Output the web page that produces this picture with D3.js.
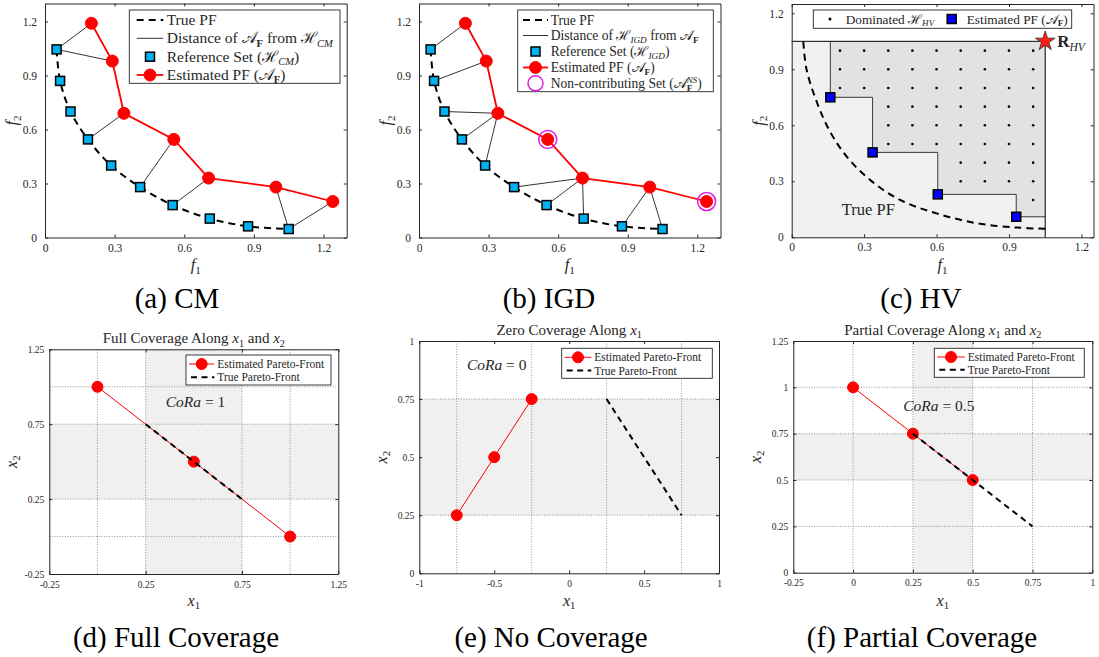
<!DOCTYPE html>
<html>
<head>
<meta charset="utf-8">
<script src="https://cdn.jsdelivr.net/npm/d3@7"></script>
<style>
body { margin: 0; background: #fff; }
svg { display: block; }
text { font-family: "Liberation Serif", "DejaVu Serif", serif; }
</style>
</head>
<body>
<svg id="fig" width="1099" height="657"></svg>
<script>
// ---- data: (a) CM and (b) IGD ----
var refF1 = [0.05, 0.065, 0.11, 0.185, 0.285, 0.41, 0.55, 0.71, 0.875, 1.05]
var refF2 = [1.045, 0.87, 0.70, 0.545, 0.40, 0.28, 0.18, 0.105, 0.062, 0.047]
var estF1 = [0.20, 0.29, 0.34, 0.555, 0.705, 0.995, 1.24]
var estF2 = [1.19, 0.98, 0.69, 0.545, 0.33, 0.28, 0.20]
var cmLinks = [[0, 0], [1, 0], [2, 3], [3, 5], [4, 6], [5, 9], [6, 9]]           // [estimated, reference]
var igdLinks = [[0, 0], [1, 1], [2, 2], [2, 3], [2, 4], [4, 5], [4, 6], [4, 7], [5, 8], [5, 9]]
var nonContributing = [3, 6]
var topTicks = [0, 0.3, 0.6, 0.9, 1.2]

// ---- data: (c) HV ----
var hvTrueF1 = [0.048, 0.062, 0.106, 0.159, 0.228, 0.325, 0.449, 0.60, 0.768, 0.934, 1.05]
var hvTrueF2 = [1.048, 0.896, 0.718, 0.566, 0.432, 0.307, 0.20, 0.128, 0.075, 0.052, 0.046]
var hvEstF1 = [0.16, 0.335, 0.605, 0.93]
var hvEstF2 = [0.75, 0.455, 0.23, 0.11]
var hvRef = [1.05, 1.05]
var hvGridF1 = [0.2, 0.3, 0.4, 0.5, 0.6, 0.7, 0.8, 0.9, 1.0]
var hvGridF2 = [0.2, 0.3, 0.4, 0.5, 0.6, 0.7, 0.8, 0.9, 1.0]

// ---- data: (d) full, (e) zero, (f) partial coverage ----
var fullEstX = [0, 0.5, 1], fullEstY = [1, 0.5, 0]
var fullTrueX = [0.25, 0.75], fullTrueY = [0.75, 0.25]
var fullXTicks = [-0.25, 0.25, 0.75, 1.25], fullYTicks = [-0.25, 0.25, 0.75, 1.25]
var fullXGrid = [0, 0.25, 0.75, 1], fullYGrid = [0, 0.25, 0.75, 1]

var zeroEstX = [-0.75, -0.5, -0.25], zeroEstY = [0.25, 0.5, 0.75]
var zeroTrueX = [0.25, 0.75], zeroTrueY = [0.75, 0.25]
var zeroXTicks = [-1, -0.5, 0, 0.5, 1], zeroYTicks = [0, 0.25, 0.5, 0.75, 1]
var zeroXGrid = [-0.75, -0.25, 0.25, 0.75], zeroYGrid = [0.25, 0.75]

var partEstX = [0, 0.25, 0.5], partEstY = [1, 0.75, 0.5]
var partTrueX = [0.25, 0.75], partTrueY = [0.75, 0.25]
var partXTicks = [-0.25, 0, 0.25, 0.5, 0.75, 1], partYTicks = [0, 0.25, 0.5, 0.75, 1, 1.25]
var partXGrid = [0, 0.25, 0.5, 0.75], partYGrid = [0.25, 0.5, 0.75, 1]

var captions = ["(a) CM", "(b) IGD", "(c) HV", "(d) Full Coverage", "(e) No Coverage", "(f) Partial Coverage"]

var FONT = "Liberation Serif, DejaVu Serif, serif"
var CAL_A = "\u{1D49C}", CAL_H = "\u210B"
var INK = "#262626"
var svg = d3.select("#fig").attr("font-family", FONT)

//build scales for one axes box
function makePanel(box, xDom, yDom) {
	var g = svg.append("g")
	return {
		g: g, box: box,
		x: d3.scaleLinear().domain(xDom).range([box.l, box.r]),
		y: d3.scaleLinear().domain(yDom).range([box.b, box.t])
	}
}

//matlab style box with inward ticks on all four sides
function drawAxes(p, xt, yt, fs, padX, padY) {
	var fmt = function(d) { return String(+d.toFixed(2)) }
	var ga = p.g.append("g").attr("color", INK)
	ga.append("g").attr("transform", "translate(0," + p.box.b + ")")
		.call(d3.axisBottom(p.x).tickValues(xt).tickFormat(fmt).tickSizeInner(-3).tickSizeOuter(0).tickPadding(padX))
		.attr("font-family", FONT).attr("font-size", fs)
	ga.append("g").attr("transform", "translate(0," + p.box.t + ")")
		.call(d3.axisTop(p.x).tickValues(xt).tickFormat("").tickSizeInner(-3).tickSizeOuter(0))
	ga.append("g").attr("transform", "translate(" + p.box.l + ",0)")
		.call(d3.axisLeft(p.y).tickValues(yt).tickFormat(fmt).tickSizeInner(-3).tickSizeOuter(0).tickPadding(padY))
		.attr("font-family", FONT).attr("font-size", fs)
	ga.append("g").attr("transform", "translate(" + p.box.r + ",0)")
		.call(d3.axisRight(p.y).tickValues(yt).tickFormat("").tickSizeInner(-3).tickSizeOuter(0))
	ga.selectAll("text").attr("font-family", FONT)
}

//text made of parts: [text, mode, dx]; mode i=italic b=bold _=subscript ^=superscript
function rich(sel, parts, fs) {
	var shift = 0
	parts.forEach(function(p) {
		var m = p[1] || ""
		var ts = sel.append("tspan").text(p[0])
		var target = 0
		if (m[0] == "_") target = fs * 0.22
		if (m[0] == "^") target = -fs * 0.36
		if (target != shift) { ts.attr("dy", target - shift); shift = target }
		if (m[0] == "_" || m[0] == "^") ts.attr("font-size", fs * 0.68)
		if (m.indexOf("i") >= 0) ts.attr("font-style", "italic")
		if (m.indexOf("b") >= 0) ts.attr("font-weight", "bold")
		if (p[2]) ts.attr("dx", p[2])
	})
}

function label(x, y, parts, fs, anchor, rotate) {
	var t = svg.append("text").attr("font-size", fs).attr("fill", INK)
		.attr("font-family", FONT)
		.attr("text-anchor", anchor || "start")
	if (rotate) t.attr("transform", "translate(" + x + "," + y + ") rotate(-90)")
	else t.attr("x", x).attr("y", y)
	rich(t, parts, fs)
	return t
}

function redDot(g, x, y, r) {
	g.append("circle").attr("cx", x).attr("cy", y).attr("r", r).attr("fill", "#ff0000").attr("stroke", "#ff0000")
}
function square(g, x, y, s, fill) {
	g.append("rect").attr("x", x - s / 2).attr("y", y - s / 2).attr("width", s).attr("height", s)
		.attr("fill", fill).attr("stroke", "#000").attr("stroke-width", 1.5)
}
function seg(g, x1, y1, x2, y2) {
	return g.append("line").attr("x1", x1).attr("y1", y1).attr("x2", x2).attr("y2", y2)
}
function legendBox(g, l, t, r, b) {
	g.append("rect").attr("x", l).attr("y", t).attr("width", r - l).attr("height", b - t)
		.attr("fill", "#fff").attr("stroke", INK).attr("stroke-width", 0.9)
}

var ref = d3.range(refF1.length).map(function(i) { return [refF1[i], refF2[i]] })
var est = d3.range(estF1.length).map(function(i) { return [estF1[i], estF2[i]] })

//panels (a) and (b) share everything but the links
function frontPanel(box, links, igd) {
	var p = makePanel(box, [0, 1.3], [0, 1.3])
	var line = d3.line().x(function(d) { return p.x(d[0]) }).y(function(d) { return p.y(d[1]) })
	p.g.append("path").attr("d", line.curve(d3.curveCatmullRom)(ref))
		.attr("fill", "none").attr("stroke", "#000").attr("stroke-width", 2).attr("stroke-dasharray", "7,5")
	links.forEach(function(k) {
		seg(p.g, p.x(est[k[0]][0]), p.y(est[k[0]][1]), p.x(ref[k[1]][0]), p.y(ref[k[1]][1]))
			.attr("stroke", "#000").attr("stroke-width", 0.8)
	})
	p.g.append("path").attr("d", line.curve(d3.curveLinear)(est))
		.attr("fill", "none").attr("stroke", "#ff0000").attr("stroke-width", 1.8)
	ref.forEach(function(d) { square(p.g, p.x(d[0]), p.y(d[1]), 9, "#00b0f0") })
	est.forEach(function(d) { redDot(p.g, p.x(d[0]), p.y(d[1]), 6) })
	if (igd) nonContributing.forEach(function(i) {
		p.g.append("circle").attr("cx", p.x(est[i][0])).attr("cy", p.y(est[i][1])).attr("r", 9)
			.attr("fill", "none").attr("stroke", "#e020e0").attr("stroke-width", 1.5)
	})
	drawAxes(p, topTicks, topTicks, 11.5, 6, 8)
	return p
}

// (a)
var pa = frontPanel({l: 45, r: 346.7, t: 3.5, b: 237.5}, cmLinks, false)
legendBox(pa.g, 129.3, 10, 340, 83.3)
seg(pa.g, 136.7, 20, 163.3, 20).attr("stroke", "#000").attr("stroke-width", 2).attr("stroke-dasharray", "7,5")
seg(pa.g, 136.7, 38.3, 163.3, 38.3).attr("stroke", "#000").attr("stroke-width", 0.8)
square(pa.g, 150, 56.7, 9, "#00b0f0")
seg(pa.g, 136.7, 75, 163.3, 75).attr("stroke", "#ff0000").attr("stroke-width", 1.8)
redDot(pa.g, 150, 75, 6)
label(166.7, 25, [["True PF"]], 15.5)
label(166.7, 43.3, [["Distance of "], [CAL_A], ["F", "_b"], [" from "], [CAL_H], ["CM", "_i"]], 15.5)
label(166.7, 61.7, [["Reference Set ("], [CAL_H], ["CM", "_i"], [")"]], 15.5)
label(166.7, 80, [["Estimated PF ("], [CAL_A], ["F", "_b"], [")"]], 15.5)

// (b)
var pb = frontPanel({l: 419, r: 720.5, t: 3.5, b: 237.5}, igdLinks, true)
legendBox(pb.g, 517.7, 10, 713.3, 91.7)
seg(pb.g, 523, 20, 548, 20).attr("stroke", "#000").attr("stroke-width", 2).attr("stroke-dasharray", "7,5")
seg(pb.g, 523, 35.5, 548, 35.5).attr("stroke", "#000").attr("stroke-width", 0.8)
square(pb.g, 535.5, 51.5, 9, "#00b0f0")
seg(pb.g, 523, 67.5, 548, 67.5).attr("stroke", "#ff0000").attr("stroke-width", 1.8)
redDot(pb.g, 535.5, 67.5, 6)
pb.g.append("circle").attr("cx", 535.5).attr("cy", 83.3).attr("r", 7.5)
	.attr("fill", "none").attr("stroke", "#e020e0").attr("stroke-width", 1.5)
label(550.7, 24.5, [["True PF"]], 13.6)
label(550.7, 40, [["Distance of "], [CAL_H], ["IGD", "_i"], [" from "], [CAL_A], ["F", "_b"]], 13.6)
label(550.7, 56, [["Reference Set ("], [CAL_H], ["IGD", "_i"], [")"]], 13.6)
label(550.7, 72, [["Estimated PF ("], [CAL_A], ["F", "_b"], [")"]], 13.6)
label(550.7, 87.8, [["Non-contributing Set ("], [CAL_A], ["F", "_b"], ["NS", "^i", -6], [")"]], 13.6)

// (c)
var pc = makePanel({l: 791.7, r: 1093.5, t: 4, b: 237.3}, [0, 1.25], [0, 1.25])
var hvEst = d3.range(hvEstF1.length).map(function(i) { return [hvEstF1[i], hvEstF2[i]] })
pc.g.append("rect").attr("x", pc.x(0)).attr("y", pc.y(hvRef[1]))
	.attr("width", pc.x(hvRef[0]) - pc.x(0)).attr("height", pc.y(0) - pc.y(hvRef[1])).attr("fill", "#f1f1f1")
//staircase of the dominated region
var stair = [[hvEst[0][0], hvRef[1]]]
hvEst.forEach(function(d, i) {
	stair.push(d)
	var nx = i + 1 < hvEst.length ? hvEst[i + 1][0] : hvRef[0]
	stair.push([nx, d[1]])
})
var hvLine = d3.line().x(function(d) { return pc.x(d[0]) }).y(function(d) { return pc.y(d[1]) })
pc.g.append("path").attr("d", hvLine(stair.concat([hvRef])) + "Z").attr("fill", "#e2e2e2")
pc.g.append("path").attr("d", hvLine(stair)).attr("fill", "none").attr("stroke", "#3a3a3a").attr("stroke-width", 1)
hvGridF2.forEach(function(gy) {
	hvGridF1.forEach(function(gx) {
		var dom = hvEst.some(function(d) { return d[0] <= gx && d[1] <= gy })
		if (dom) pc.g.append("circle").attr("cx", pc.x(gx)).attr("cy", pc.y(gy)).attr("r", 1.3).attr("fill", "#000")
	})
})
seg(pc.g, pc.x(0), pc.y(hvRef[1]), pc.x(hvRef[0]), pc.y(hvRef[1])).attr("stroke", "#000").attr("stroke-width", 1)
seg(pc.g, pc.x(hvRef[0]), pc.y(0), pc.x(hvRef[0]), pc.y(hvRef[1])).attr("stroke", "#000").attr("stroke-width", 1)
var hvTrue = d3.range(hvTrueF1.length).map(function(i) { return [hvTrueF1[i], hvTrueF2[i]] })
pc.g.append("path").attr("d", hvLine.curve(d3.curveCatmullRom)(hvTrue))
	.attr("fill", "none").attr("stroke", "#000").attr("stroke-width", 2).attr("stroke-dasharray", "7,5")
hvEst.forEach(function(d) { square(pc.g, pc.x(d[0]), pc.y(d[1]), 9, "#0000ff") })
pc.g.append("path").attr("d", d3.symbol(d3.symbolStar, 120)())
	.attr("transform", "translate(" + pc.x(hvRef[0]) + "," + pc.y(hvRef[1]) + ")")
	.attr("fill", "#ff1a1a").attr("stroke", "#333").attr("stroke-width", 0.8)
drawAxes(pc, topTicks, topTicks, 11.5, 6, 8)
label(pc.x(hvRef[0]) + 12, pc.y(hvRef[1]) + 6, [["R", "b"], ["HV", "_i"]], 17)
label(868.3, 215, [["True PF"]], 16.5, "middle")
legendBox(pc.g, 813.3, 10, 1071.7, 28.3)
pc.g.append("circle").attr("cx", 830).attr("cy", 19).attr("r", 1.5).attr("fill", "#000")
square(pc.g, 951.7, 19, 9, "#0000ff")
label(845.7, 23.5, [["Dominated "], [CAL_H], ["HV", "_i"]], 13.3)
label(966.7, 23.5, [["Estimated PF ("], [CAL_A], ["F", "_b"], [")"]], 13.3)

// coverage panels
function coveragePanel(o) {
	var p = makePanel(o.box, o.xDom, o.yDom)
	if (o.xBand) p.g.append("rect").attr("x", p.x(o.xBand[0])).attr("y", o.box.t)
		.attr("width", p.x(o.xBand[1]) - p.x(o.xBand[0])).attr("height", o.box.b - o.box.t).attr("fill", "#f0f0f0")
	if (o.yBand) p.g.append("rect").attr("x", o.box.l).attr("y", p.y(o.yBand[1]))
		.attr("width", o.box.r - o.box.l).attr("height", p.y(o.yBand[0]) - p.y(o.yBand[1])).attr("fill", "#f0f0f0")
	o.xGrid.forEach(function(v) {
		seg(p.g, p.x(v), o.box.t, p.x(v), o.box.b).attr("stroke", "#6a6a6a").attr("stroke-width", 0.7).attr("stroke-dasharray", "1,1.6")
	})
	o.yGrid.forEach(function(v) {
		seg(p.g, o.box.l, p.y(v), o.box.r, p.y(v)).attr("stroke", "#6a6a6a").attr("stroke-width", 0.7).attr("stroke-dasharray", "1,1.6")
	})
	var line = d3.line().x(function(d) { return p.x(d[0]) }).y(function(d) { return p.y(d[1]) })
	var e = o.estX.map(function(v, i) { return [v, o.estY[i]] })
	var t = o.trueX.map(function(v, i) { return [v, o.trueY[i]] })
	p.g.append("path").attr("d", line(e)).attr("fill", "none").attr("stroke", "#ff0000").attr("stroke-width", 1)
	e.forEach(function(d) { redDot(p.g, p.x(d[0]), p.y(d[1]), 5.5) })
	p.g.append("path").attr("d", line(t)).attr("fill", "none").attr("stroke", "#000").attr("stroke-width", 2).attr("stroke-dasharray", "6,4.5")
	drawAxes(p, o.xTicks, o.yTicks, 9.5, 7, 5)
	var lg = o.legend
	legendBox(p.g, lg[0], lg[1], lg[2], lg[3])
	var r1 = lg[1] + (lg[3] - lg[1]) * 0.3, r2 = lg[1] + (lg[3] - lg[1]) * 0.74
	var tx = lg[0] + lg[4]
	seg(p.g, lg[0] + 3, r1, tx - 3, r1).attr("stroke", "#ff0000").attr("stroke-width", 1)
	redDot(p.g, (lg[0] + tx) / 2, r1, 5.5)
	seg(p.g, lg[0] + 5, r2, tx - 3, r2).attr("stroke", "#000").attr("stroke-width", 2).attr("stroke-dasharray", "6,4.5")
	label(tx, r1 + 4, [["Estimated Pareto-Front"]], 11.5)
	label(tx, r2 + 4, [["True Pareto-Front"]], 11.5)
	var cx = (o.box.l + o.box.r) / 2
	label(cx, o.box.t - 6, o.title, 15, "middle")
	label(cx, 605.5, [["x", "i"], ["1", "_"]], 16, "middle")
	label(o.box.l - 32.5, (o.box.t + o.box.b) / 2, [["x", "i"], ["2", "_"]], 16, "middle", true)
	label(o.cora[0], o.cora[1], [["CoRa", "i"], [" = " + o.cora[2]]], 15.5, "middle")
	return p
}

coveragePanel({
	box: {l: 49.3, r: 338.3, t: 349.3, b: 574}, xDom: [-0.25, 1.25], yDom: [-0.25, 1.25],
	xBand: [0.25, 0.75], yBand: [0.25, 0.75], xGrid: fullXGrid, yGrid: fullYGrid,
	xTicks: fullXTicks, yTicks: fullYTicks,
	estX: fullEstX, estY: fullEstY, trueX: fullTrueX, trueY: fullTrueY,
	legend: [186, 355, 331, 385, 31.3],
	title: [["Full Coverage Along "], ["x", "i"], ["1", "_"], [" and "], ["x", "i"], ["2", "_"]],
	cora: [195.5, 407, "1"]
})
coveragePanel({
	box: {l: 419.3, r: 719, t: 341, b: 573.3}, xDom: [-1, 1], yDom: [0, 1],
	xBand: null, yBand: [0.25, 0.75], xGrid: zeroXGrid, yGrid: zeroYGrid,
	xTicks: zeroXTicks, yTicks: zeroYTicks,
	estX: zeroEstX, estY: zeroEstY, trueX: zeroTrueX, trueY: zeroTrueY,
	legend: [561.7, 348.3, 712.3, 378.3, 32.6],
	title: [["Zero Coverage Along "], ["x", "i"], ["1", "_"]],
	cora: [496.7, 369.5, "0"]
})
coveragePanel({
	box: {l: 793.3, r: 1092.3, t: 341, b: 572.7}, xDom: [-0.25, 1], yDom: [0, 1.25],
	xBand: [0.25, 0.5], yBand: [0.5, 0.75], xGrid: partXGrid, yGrid: partYGrid,
	xTicks: partXTicks, yTicks: partYTicks,
	estX: partEstX, estY: partEstY, trueX: partTrueX, trueY: partTrueY,
	legend: [934.3, 348.3, 1084.3, 377.3, 33.4],
	title: [["Partial Coverage Along "], ["x", "i"], ["1", "_"], [" and "], ["x", "i"], ["2", "_"]],
	cora: [938.8, 411, "0.5"]
})

// top axis labels
;[pa, pb, pc].forEach(function(p) {
	var cx = (p.box.l + p.box.r) / 2
	label(cx, 270, [["f", "i"], ["1", "_"]], 16.5, "middle")
	label(p.box.l - 28, (p.box.t + p.box.b) / 2, [["f", "i"], ["2", "_"]], 16.5, "middle", true)
})

// captions
var capX = [177, 549, 921, 176, 551, 922]
captions.forEach(function(c, i) {
	label(capX[i], i < 3 ? 308 : 647, [[c]], 29, "middle").attr("fill", "#000")
})
</script>
</body>
</html>
